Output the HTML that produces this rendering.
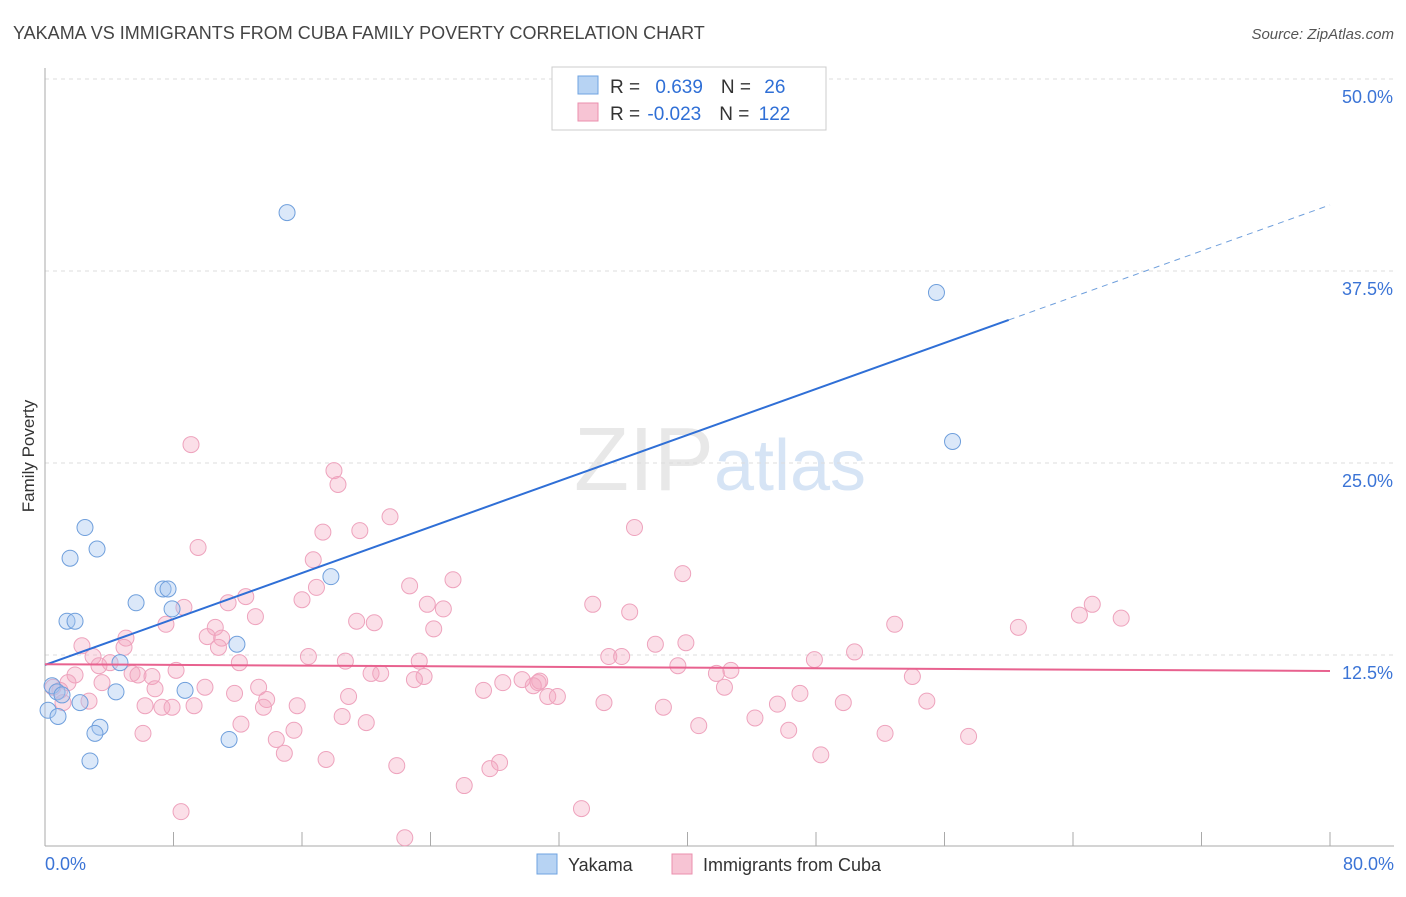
<!DOCTYPE html>
<html><head><meta charset="utf-8"><style>
body{margin:0;background:#fff;font-family:"Liberation Sans",sans-serif}
svg text{font-family:"Liberation Sans",sans-serif}
</style></head><body>
<svg id="chart" width="1406" height="892" viewBox="0 0 1406 892">
<text x="13" y="39" font-size="18" fill="#444">YAKAMA VS IMMIGRANTS FROM CUBA FAMILY POVERTY CORRELATION CHART</text>
<text x="1394" y="39" font-size="15" fill="#555" text-anchor="end" font-style="italic">Source: ZipAtlas.com</text>
<text x="720" y="490" font-size="90" text-anchor="middle" fill="#e8e8e8" font-family="Liberation Serif">ZIP<tspan fill="#d6e4f5" font-family="Liberation Sans" font-size="72">atlas</tspan></text>
<text transform="translate(34,456) rotate(-90)" font-size="17" fill="#333" text-anchor="middle">Family Poverty</text>
<g id="grid"></g><g id="axes"></g><g id="pts"></g><g id="lines"></g>
<g>
<rect x="552" y="67" width="274" height="63" fill="#fff" stroke="#ccc"/>
<rect x="578" y="76" width="20" height="18" fill="#b7d3f3" stroke="#6fa3e0"/>
<rect x="578" y="103" width="20" height="18" fill="#f7c4d4" stroke="#eb8fae"/>
<text x="610" y="93" font-size="19" fill="#333">R = <tspan fill="#2f6fd6" dx="10">0.639</tspan><tspan dx="18" fill="#333">N = </tspan><tspan dx="8" fill="#2f6fd6">26</tspan></text>
<text x="610" y="120" font-size="19" fill="#333">R = <tspan fill="#2f6fd6" dx="2">-0.023</tspan><tspan dx="18" fill="#333">N = </tspan><tspan dx="4" fill="#2f6fd6">122</tspan></text>
</g>
<g>
<rect x="537" y="854" width="20" height="20" fill="#b7d3f3" stroke="#6fa3e0"/>
<text x="568" y="871" font-size="18" fill="#333">Yakama</text>
<rect x="672" y="854" width="20" height="20" fill="#f7c4d4" stroke="#eb8fae"/>
<text x="703" y="871" font-size="18" fill="#333">Immigrants from Cuba</text>
</g>
</svg>
<script>
const yTicks=[12.5,25,37.5,50];
const yTickLabels=["12.5%","25.0%","37.5%","50.0%"];
const xEndLabels=["0.0%","80.0%"];
const blueX=[15.07,55.5,56.5,2.49,3.24,1.56,17.8,7.35,7.66,5.67,7.91,1.37,1.87,11.95,4.67,0.44,0.75,1.06,4.42,8.72,2.18,0.19,0.81,3.42,3.11,11.46,2.80];
const blueY=[41.3,36.1,26.4,20.8,19.4,18.8,17.6,16.8,16.8,15.9,15.5,14.7,14.7,13.2,12.0,10.5,10.1,9.9,10.1,10.2,9.4,8.9,8.5,7.8,7.4,7.0,5.6];
const pinkX=[9.09,17.99,18.24,21.48,17.3,19.6,36.7,9.53,16.7,39.7,25.4,22.7,16.9,16.0,12.5,11.4,23.8,34.1,65.2,8.65,24.8,36.4,64.4,67.0,13.1,19.4,20.5,7.53,52.9,10.6,60.6,24.2,10.1,11.0,5.04,39.9,2.30,4.92,10.8,38.0,50.4,2.99,16.4,35.1,35.9,18.7,23.3,47.9,4.05,3.36,12.1,39.4,8.16,5.42,1.87,5.79,6.66,20.3,20.9,41.8,42.7,54.0,23.6,23.0,29.7,1.43,3.55,28.5,30.7,30.8,9.96,13.3,6.85,27.3,30.4,42.3,0.50,0.93,11.8,47.0,31.3,31.9,18.9,13.8,2.74,1.12,54.9,34.8,49.7,15.7,45.6,6.23,7.28,7.91,9.28,13.6,38.5,18.5,44.2,20.0,12.2,40.7,6.10,15.5,46.3,52.3,57.5,14.4,14.9,48.3,17.5,28.3,27.7,21.9,26.1,33.4,8.47,22.4];
const pinkY=[26.2,24.5,23.6,21.5,20.5,20.6,20.8,19.5,18.7,17.8,17.4,17.0,16.9,16.1,16.3,15.9,15.8,15.8,15.8,15.6,15.5,15.3,15.1,14.9,15.0,14.7,14.6,14.5,14.5,14.3,14.3,14.2,13.7,13.6,13.6,13.3,13.1,13.0,13.0,13.2,12.7,12.4,12.4,12.4,12.4,12.1,12.1,12.2,12.0,11.8,12.0,11.8,11.5,11.3,11.2,11.2,11.1,11.3,11.3,11.3,11.5,11.1,11.1,10.9,10.9,10.7,10.7,10.7,10.7,10.8,10.4,10.4,10.3,10.2,10.5,10.4,10.4,10.2,10.0,10.0,9.8,9.8,9.8,9.6,9.5,9.4,9.5,9.4,9.4,9.2,9.3,9.2,9.1,9.1,9.2,9.1,9.1,8.5,8.4,8.1,8.0,7.9,7.4,7.6,7.6,7.4,7.2,7.0,6.1,6.0,5.7,5.5,5.1,5.3,4.0,2.5,2.3,0.6];
const blueFit=[11.85,41.8];
const pinkFit=[11.9,11.46];
const NS="http://www.w3.org/2000/svg";
const X0=45,X1=1330,Y0=847,Y50=79;
function sx(v){return X0+(X1-X0)*v/80;}
function sy(v){return Y0-(Y0-Y50)*v/50;}
function mk(tag,attrs,parent){const e=document.createElementNS(NS,tag);for(const k in attrs)e.setAttribute(k,attrs[k]);parent.appendChild(e);return e;}
const grid=document.getElementById('grid'),axes=document.getElementById('axes'),pts=document.getElementById('pts'),lines=document.getElementById('lines');
yTicks.forEach((t,i)=>{
 const g=mk('line',{x1:45,x2:1394,y1:sy(t),y2:sy(t),stroke:'#ddd','stroke-dasharray':'4,4'},grid);
 
 
 const tx=mk('text',{x:1393,y:sy(t)+24,'font-size':18,fill:'#3b74d6','text-anchor':'end'},axes);
 tx.textContent=yTickLabels[i];
 
 
});
const al=mk('line',{x1:45,x2:45,y1:68,y2:846,stroke:'#aaa'},axes);


const bl=mk('line',{x1:45,x2:1394,y1:846,y2:846,stroke:'#aaa'},axes);


for(let i=0;i<=10;i++){const tk=mk('line',{x1:sx(i*8),x2:sx(i*8),y1:832,y2:846,stroke:'#aaa'},axes);
 
 }
[[0,'start',45],[80,'end',1394]].forEach((d,i)=>{const t=mk('text',{x:d[2],y:870,'font-size':18,fill:'#3b74d6','text-anchor':d[1]},axes);t.textContent=xEndLabels[i];
 
 });
pinkX.forEach((x,i)=>{const c=mk('circle',{cx:sx(x),cy:sy(pinkY[i]),r:8,fill:'rgba(244,164,190,0.35)',stroke:'#eea3bd','stroke-width':1},pts);
 
 });
blueX.forEach((x,i)=>{const c=mk('circle',{cx:sx(x),cy:sy(blueY[i]),r:8,fill:'rgba(164,198,240,0.4)',stroke:'#6f9fdc','stroke-width':1},pts);
 
 });
function fy(f,x){return f[0]+(f[1]-f[0])*x/80;}
const bs=mk('line',{x1:sx(0),y1:sy(fy(blueFit,0)),x2:sx(60),y2:sy(fy(blueFit,60)),stroke:'#2f6fd6','stroke-width':2},lines);


const bd=mk('line',{x1:sx(60),y1:sy(fy(blueFit,60)),x2:sx(80),y2:sy(fy(blueFit,80)),stroke:'#6f9fdc','stroke-width':1,'stroke-dasharray':'6,5'},lines);


const pl=mk('line',{x1:sx(0),y1:sy(fy(pinkFit,0)),x2:sx(80),y2:sy(fy(pinkFit,80)),stroke:'#e8628f','stroke-width':2},lines);


</script>
</body></html>
